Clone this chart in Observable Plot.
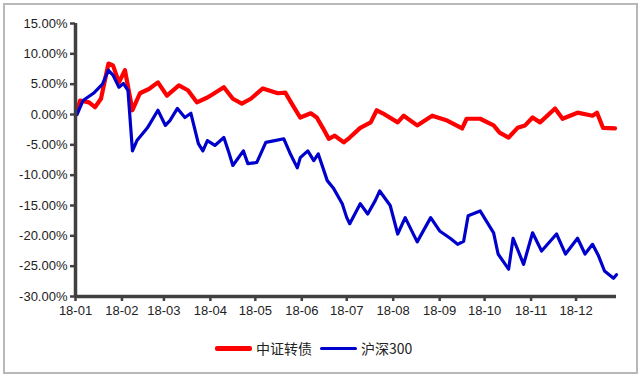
<!DOCTYPE html>
<html><head><meta charset="utf-8">
<script src="https://cdn.jsdelivr.net/npm/d3@7"></script>
<script src="https://cdn.jsdelivr.net/npm/@observablehq/plot@0.6"></script>
<style>
body{margin:0;background:#fff;}
#frame{position:absolute;left:3px;top:3px;width:631px;height:367px;border:2px solid #b8b8b8;box-sizing:content-box;}
#chart{position:absolute;left:0;top:0;}
#legend{position:absolute;left:0;top:336px;width:640px;height:24px;font-family:"Noto Sans CJK SC","Liberation Sans",sans-serif;font-size:14px;color:#222;}
.item{position:absolute;top:0;display:flex;align-items:center;height:24px;}
.sw{display:inline-block;width:37px;margin-right:4px;border-radius:2px;}
</style></head>
<body>
<div id="frame"></div>
<div id="chart"></div>
<div id="legend"></div>
<script>
const seriesNames = ["中证转债", "沪深300"];
const seriesColors = ["#ff0000", "#0000cc"];
const redDates = ["2018-01-02","2018-01-04","2018-01-10","2018-01-14","2018-01-18","2018-01-23","2018-01-26","2018-01-30","2018-02-03","2018-02-08","2018-02-13","2018-02-19","2018-02-25","2018-03-03","2018-03-11","2018-03-17","2018-03-23","2018-03-30","2018-04-01","2018-04-10","2018-04-16","2018-04-22","2018-04-28","2018-05-06","2018-05-16","2018-05-21","2018-05-26","2018-05-31","2018-06-07","2018-06-11","2018-06-15","2018-06-19","2018-06-23","2018-06-29","2018-07-03","2018-07-10","2018-07-17","2018-07-21","2018-07-25","2018-08-04","2018-08-08","2018-08-17","2018-08-27","2018-09-06","2018-09-16","2018-09-19","2018-09-28","2018-10-07","2018-10-11","2018-10-17","2018-10-23","2018-10-28","2018-11-02","2018-11-07","2018-11-17","2018-11-22","2018-12-02","2018-12-12","2018-12-15","2018-12-19","2018-12-27"];
const redValues = [0.3,2.3,2.0,1.2,2.6,8.4,8.1,5.3,7.3,0.7,3.5,4.2,5.3,3.1,4.8,4.0,2.0,2.8,3.1,4.5,2.6,1.8,2.6,4.3,3.5,3.6,1.5,-0.5,0.2,-0.5,-2.2,-4.0,-3.5,-4.6,-3.8,-2.2,-1.3,0.7,0.2,-1.3,-0.2,-1.8,-0.2,-1.0,-2.3,-0.7,-0.7,-1.8,-3.0,-3.8,-2.2,-1.8,-0.5,-1.3,1.0,-0.7,0.3,-0.2,0.3,-2.2,-2.3];
const blueDates = ["2018-01-02","2018-01-06","2018-01-13","2018-01-19","2018-01-23","2018-01-26","2018-01-30","2018-02-02","2018-02-05","2018-02-08","2018-02-11","2018-02-18","2018-02-25","2018-03-02","2018-03-05","2018-03-10","2018-03-15","2018-03-19","2018-03-24","2018-03-27","2018-03-30","2018-04-04","2018-04-10","2018-04-13","2018-04-16","2018-04-23","2018-04-26","2018-05-02","2018-05-08","2018-05-14","2018-05-20","2018-05-24","2018-05-29","2018-05-31","2018-06-05","2018-06-09","2018-06-12","2018-06-18","2018-06-22","2018-06-28","2018-07-01","2018-07-03","2018-07-10","2018-07-15","2018-07-20","2018-07-23","2018-07-30","2018-08-04","2018-08-09","2018-08-17","2018-08-26","2018-09-01","2018-09-08","2018-09-13","2018-09-17","2018-09-20","2018-09-28","2018-10-07","2018-10-10","2018-10-17","2018-10-20","2018-10-27","2018-11-02","2018-11-08","2018-11-18","2018-11-24","2018-12-02","2018-12-07","2018-12-12","2018-12-16","2018-12-20","2018-12-26","2018-12-28"];
const blueValues = [0,2.3,3.5,5.0,7.3,6.5,4.5,5.1,4.0,-6.0,-4.3,-2.2,0.7,-1.8,-1.0,1.0,-0.5,0.2,-4.8,-6.0,-4.3,-5.1,-3.8,-6.0,-8.4,-6.0,-8.1,-7.9,-4.6,-4.3,-4.0,-6.3,-8.8,-7.1,-6.0,-7.6,-6.5,-10.9,-12.1,-14.7,-17.0,-18.0,-14.7,-16.4,-14.2,-12.6,-15.0,-19.7,-17.0,-21.0,-17.0,-19.2,-20.4,-21.4,-20.9,-16.7,-15.9,-19.5,-23.0,-25.5,-20.4,-24.7,-19.5,-22.5,-19.7,-23.0,-20.4,-23.0,-21.4,-23.3,-25.8,-27.0,-26.4];
const yTicks = [15,10,5,0,-5,-10,-15,-20,-25,-30];

const parse = d3.utcParse("%Y-%m-%d");
const red = redDates.map((d,i)=>({date:parse(d), v:redValues[i]}));
const blue = blueDates.map((d,i)=>({date:parse(d), v:blueValues[i]}));
const x0 = parse("2018-01-01"), x1 = parse("2018-12-28");
const axisColor = "#404040";

const chart = Plot.plot({
  width: 640, height: 330,
  marginLeft: 75, marginRight: 24, marginTop: 23, marginBottom: 34,
  style: {fontFamily: "'Liberation Sans', Arial, sans-serif", fontSize: "13px", color: "#222", background: "transparent"},
  x: {type: "utc", domain: [x0, x1]},
  y: {domain: [-30, 15]},
  marks: [
    Plot.axisY({ticks: yTicks, tickFormat: d => d.toFixed(2) + "%", tickSize: 5, tickPadding: 3, stroke: axisColor, strokeWidth: 2.5, label: null, fontSize: 13}),
    Plot.axisX({ticks: d3.utcMonth.every(1), tickFormat: d3.utcFormat("%y-%m"), tickSize: 5, tickPadding: 4, stroke: axisColor, strokeWidth: 2.5, label: null, fontSize: 13}),
    Plot.line(red, {x: "date", y: "v", stroke: seriesColors[0], strokeWidth: 4.2, curve: "linear"}),
    Plot.line(blue, {x: "date", y: "v", stroke: seriesColors[1], strokeWidth: 3.2, curve: "linear"}),
    Plot.ruleX([x0], {stroke: axisColor, strokeWidth: 3.5}),
    Plot.ruleY([-30], {stroke: axisColor, strokeWidth: 3.5})
  ]
});
document.getElementById("chart").appendChild(chart);

const leg = document.getElementById("legend");
const lefts = [215, 320];
seriesNames.forEach((n,i)=>{
  const it = document.createElement("div");
  it.className = "item";
  it.style.left = lefts[i] + "px";
  const sw = document.createElement("span");
  sw.className = "sw";
  sw.style.height = (i===0?5:3) + "px";
  sw.style.background = seriesColors[i];
  it.appendChild(sw);
  const t = document.createElement("span");
  t.textContent = n;
  it.appendChild(t);
  leg.appendChild(it);
});
</script>
</body></html>
